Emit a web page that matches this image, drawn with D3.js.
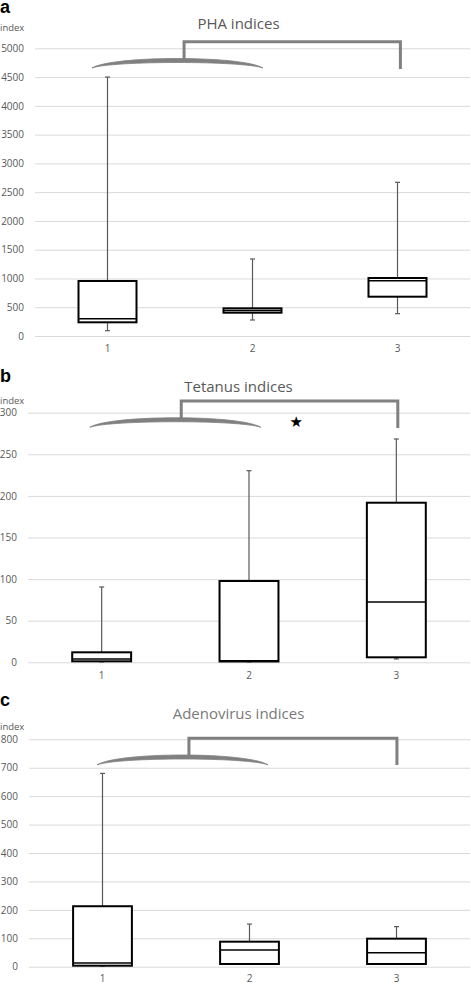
<!DOCTYPE html>
<html>
<head>
<meta charset="utf-8">
<script src="https://cdn.jsdelivr.net/npm/d3@7"></script>
<style>
  html, body { margin: 0; padding: 0; background: #fff; }
  svg { display: block; }
</style>
</head>
<body>
<svg id="chart" width="471" height="986"></svg>
<script>
// ---------- DATA ----------
const categories = ["1", "2", "3"];

// Panel a: PHA indices
const phaMin    = [92, 278, 388];
const phaQ1     = [238, 405, 683];
const phaMedian = [301, 443, 961];
const phaQ3     = [956, 481, 1008];
const phaMax    = [4500, 1338, 2671];
const phaTicks  = [0, 500, 1000, 1500, 2000, 2500, 3000, 3500, 4000, 4500, 5000];

// Panel b: Tetanus indices
const tetMin    = [0.5, 0.5, 4];
const tetQ1     = [1.2, 1, 6];
const tetMedian = [4, 2, 72.5];
const tetQ3     = [12, 97.7, 191.8];
const tetMax    = [90.5, 230.3, 268.4];
const tetTicks  = [0, 50, 100, 150, 200, 250, 300];

// Panel c: Adenovirus indices
const adeMin    = [2, 9, 8];
const adeQ1     = [3.5, 9.5, 9.5];
const adeMedian = [13, 59, 49];
const adeQ3     = [212.7, 88, 98.6];
const adeMax    = [680, 150, 141];
const adeTicks  = [0, 100, 200, 300, 400, 500, 600, 700, 800];

// Significance brackets (x in category-index units, y in data units)
const phaBracket = { arcL: -0.107, arcR: 1.072, arcEnd: 4658, arcTop: 4814, stem: 0.528, top: 5115, right: 2.02, rightEnd: 4640 };
const tetBracket = { arcL: -0.08, arcR: 1.08, arcEnd: 282.5, arcTop: 293.3, stem: 0.54, top: 314, right: 2.01, rightEnd: 281.6, star: [1.32, 289] };
const adeBracket = { arcL: -0.037, arcR: 1.126, arcEnd: 710, arcTop: 743, stem: 0.588, top: 804, right: 2.003, rightEnd: 710 };

// ---------- LAYOUT ----------
const panels = [
  { letter: "a", letterY: 13, title: "PHA indices", titleColor: "#595959", titleY: 29, indexY: 31,
    x0: 35, yBottom: 336, yTop: 48.3, max: 5000, ticks: phaTicks, catY: 355,
    min: phaMin, q1: phaQ1, med: phaMedian, q3: phaQ3, mx: phaMax, br: phaBracket },
  { letter: "b", letterY: 382, title: "Tetanus indices", titleColor: "#595959", titleY: 392, indexY: 404,
    x0: 28, yBottom: 662.3, yTop: 412.7, max: 300, ticks: tetTicks, catY: 681.5,
    min: tetMin, q1: tetQ1, med: tetMedian, q3: tetQ3, mx: tetMax, br: tetBracket },
  { letter: "c", letterY: 706, title: "Adenovirus indices", titleColor: "#7a7a7a", titleY: 719, indexY: 730,
    x0: 29, yBottom: 966.7, yTop: 739.3, max: 800, ticks: adeTicks, catY: 985,
    min: adeMin, q1: adeQ1, med: adeMedian, q3: adeQ3, mx: adeMax, br: adeBracket }
];

const svg = d3.select("#chart");
const font = "'Open Sans', 'Liberation Sans', sans-serif";
const xRight = 470;
const bracketColor = "#808080";

panels.forEach(p => {
  const g = svg.append("g");
  const y = d3.scaleLinear().domain([0, p.max]).range([p.yBottom, p.yTop]);
  const x = d3.scaleBand().domain(categories).range([p.x0, xRight]).padding(0);
  const bw = x.bandwidth();
  const boxW = bw * 0.4;
  const cx = c => x(c) + bw / 2;
  const xi = d3.scaleLinear().domain([0, 2]).range([cx(categories[0]), cx(categories[2])]);

  // Gridlines + y tick labels via axis
  const yAxis = d3.axisLeft(y).tickValues(p.ticks).tickSize(-(xRight - p.x0)).tickPadding(11).tickFormat(d3.format("d"));
  const ya = g.append("g").attr("transform", `translate(${p.x0},0)`).call(yAxis);
  ya.select(".domain").remove();
  ya.selectAll(".tick line").attr("stroke", "#d9d9d9").attr("stroke-width", 1);
  ya.selectAll(".tick text").attr("fill", "#595959").style("font-family", font).style("font-size", "10px");

  // x category labels
  const xAxis = d3.axisBottom(x).tickSize(0).tickPadding(0);
  const xa = g.append("g").attr("transform", `translate(0,${p.catY - 10})`).call(xAxis);
  xa.select(".domain").remove();
  xa.selectAll(".tick text").attr("fill", "#595959").style("font-family", font).style("font-size", "10px");

  // Panel letter
  g.append("text").attr("x", 0).attr("y", p.letterY).text(p.letter)
    .style("font-family", "'Liberation Sans', Arial, sans-serif").style("font-weight", "bold")
    .style("font-size", "18px").attr("fill", "#000");
  // "index" label
  g.append("text").attr("x", 0).attr("y", p.indexY).text("index")
    .style("font-family", font).style("font-size", "9.5px").attr("fill", "#595959");
  // Title
  g.append("text").attr("x", 238.5).attr("y", p.titleY).attr("text-anchor", "middle").text(p.title)
    .style("font-family", font).style("font-size", "15px").attr("fill", p.titleColor);

  // Boxes
  const data = categories.map((c, i) => ({ c, min: p.min[i], q1: p.q1[i], med: p.med[i], q3: p.q3[i], max: p.mx[i] }));
  const boxes = g.selectAll(".box").data(data).enter().append("g");
  const capW = 5;
  // whiskers
  boxes.append("line").attr("x1", d => cx(d.c)).attr("x2", d => cx(d.c))
    .attr("y1", d => y(d.q3)).attr("y2", d => y(d.max)).attr("stroke", "#595959").attr("stroke-width", 1.2);
  boxes.append("line").attr("x1", d => cx(d.c)).attr("x2", d => cx(d.c))
    .attr("y1", d => y(d.q1)).attr("y2", d => y(d.min)).attr("stroke", "#595959").attr("stroke-width", 1.2);
  boxes.append("line").attr("x1", d => cx(d.c) - capW / 2).attr("x2", d => cx(d.c) + capW / 2)
    .attr("y1", d => y(d.max)).attr("y2", d => y(d.max)).attr("stroke", "#595959").attr("stroke-width", 1.2);
  boxes.append("line").attr("x1", d => cx(d.c) - capW / 2).attr("x2", d => cx(d.c) + capW / 2)
    .attr("y1", d => y(d.min)).attr("y2", d => y(d.min)).attr("stroke", "#595959").attr("stroke-width", 1.2);
  // box
  boxes.append("rect").attr("x", d => cx(d.c) - boxW / 2).attr("width", boxW)
    .attr("y", d => y(d.q3)).attr("height", d => Math.max(0.5, y(d.q1) - y(d.q3)))
    .attr("fill", "#fff").attr("stroke", "#000").attr("stroke-width", 2);
  // median
  boxes.append("line").attr("x1", d => cx(d.c) - boxW / 2).attr("x2", d => cx(d.c) + boxW / 2)
    .attr("y1", d => y(d.med)).attr("y2", d => y(d.med)).attr("stroke", "#000").attr("stroke-width", 1.5);

  // Bracket: crescent arc
  const b = p.br;
  const L = xi(b.arcL), R = xi(b.arcR), yE = y(b.arcEnd), yT = y(b.arcTop);
  const w = R - L;
  const outerApex = yT - 0.5, innerApex = yT + 3.5;
  const cOuter = (outerApex - 0.25 * yE) / 0.75;
  const cInner = (innerApex - 0.25 * yE) / 0.75;
  const path = d3.path();
  path.moveTo(L, yE);
  path.bezierCurveTo(L + 0.12 * w, cOuter, R - 0.12 * w, cOuter, R, yE);
  path.bezierCurveTo(R - 0.12 * w, cInner, L + 0.12 * w, cInner, L, yE);
  path.closePath();
  g.append("path").attr("d", path.toString()).attr("fill", bracketColor).attr("stroke", bracketColor).attr("stroke-width", 0.8);

  // Bracket: stem, top bar, right leg
  const line = d3.line();
  g.append("path").attr("d", line([[xi(b.stem), yT + 1], [xi(b.stem), y(b.top)], [xi(b.right), y(b.top)], [xi(b.right), y(b.rightEnd)]]))
    .attr("fill", "none").attr("stroke", bracketColor).attr("stroke-width", 3).attr("stroke-linejoin", "miter");

  if (b.star) {
    g.append("text").attr("x", xi(b.star[0])).attr("y", y(b.star[1])).attr("text-anchor", "middle")
      .attr("dy", "0.35em").text("★").style("font-family", "'DejaVu Sans', sans-serif").style("font-size", "15px").attr("fill", "#000");
  }
});
</script>
</body>
</html>
